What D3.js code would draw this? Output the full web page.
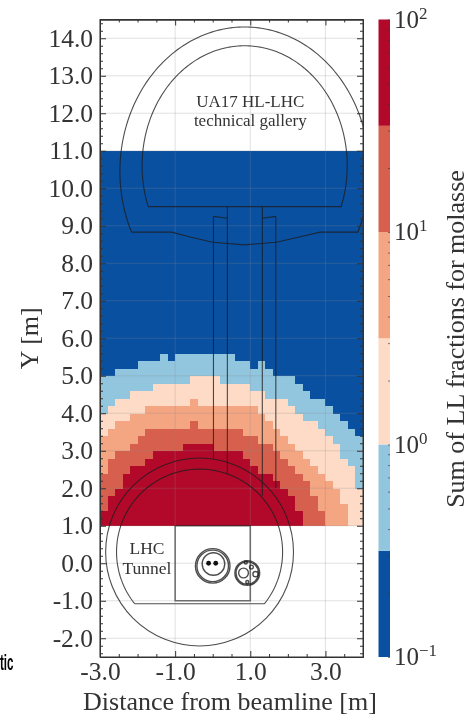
<!DOCTYPE html>
<html lang="en">

<head>
    <meta charset="UTF-8">
    <title>Sum of LL fractions for molasse</title>
    <style>
        body {
            margin: 0;
            padding: 0;
            background: #fff;
        }

        svg {
            display: block;
            filter: blur(0.45px);
        }

        text {
            font-family: "Liberation Serif", serif;
            fill: #333;
        }

        .outline {
            fill: none;
            stroke: #1c1c1c;
            stroke-opacity: 0.78;
            stroke-width: 1.1;
        }

        .tick text {
            font-size: 25.5px;
        }

        .tick line,
        .domain {
            stroke: #333;
        }
    </style>
</head>

<body>

    <svg width="471" height="720"></svg>

    <script src="https://d3js.org/d3.v7.min.js"></script>
    <script>
        // Cell size of the map, metres
        const cellSize = 0.2;
        const xDomain = [-3, 4];
        const yDomain = [-2.5, 14.5];
        const mapBottom = 1;
        const mapTop = 11;

        // Top of each colour band per column, counted in cells above Y = 1
        const topBand55 = [2, 4, 5, 7, 8, 8, 9, 10, 10, 10, 10, 11, 11, 11, 11, 10, 10, 10, 10, 9, 8, 7, 7, 6, 5, 4, 2, 0, 0, 0, 0, 0, 0, 0, 0];
        const topBand17 = [7, 9, 10, 10, 11, 12, 13, 13, 13, 13, 13, 13, 14, 13, 13, 13, 13, 13, 13, 12, 12, 11, 11, 10, 9, 8, 7, 6, 4, 2, 0, 0, 0, 0, 0];
        const topBand55e1 = [12, 13, 14, 14, 15, 15, 16, 16, 16, 16, 16, 16, 17, 16, 16, 16, 16, 16, 16, 16, 16, 15, 14, 13, 12, 11, 10, 9, 8, 7, 6, 5, 3, 0, 0];
        const topBand17e1 = [15, 16, 17, 17, 18, 18, 18, 19, 19, 19, 19, 19, 20, 20, 20, 20, 19, 19, 19, 19, 18, 18, 17, 17, 17, 16, 15, 14, 14, 13, 12, 11, 9, 8, 5];
        const topBand55e2 = [20, 20, 21, 21, 21, 22, 22, 22, 23, 22, 23, 23, 23, 23, 23, 23, 23, 23, 22, 22, 21, 22, 21, 20, 20, 20, 19, 18, 17, 17, 16, 15, 14, 13, 12];
        const bandTops = [topBand55, topBand17, topBand55e1, topBand17e1, topBand55e2];
        const bandValues = [55, 17, 5.5, 1.7, 0.55, 0.17];

        // Colour bar
        const bandEdges = [0.1, 0.316, 1, 3.16, 10, 31.6, 100];
        const bandColors = ["#0a50a1", "#92c5de", "#fddbc7", "#f4a582", "#d6604d", "#b2092b"];
        const cbarTicks = [0.1, 1, 10, 100];
        const cbarExponents = ["\u22121", "0", "1", "2"];

        const xMajor = [-3, -1, 1, 3];
        const yMajor = [-2, -1, 0, 1, 2, 3, 4, 5, 6, 7, 8, 9, 10, 11, 12, 13, 14];

        // Tunnel geometry in metres
        const galleryOuter = { cx: 0.85, cy: 10.45, rx: 3.32, ry: 3.85 };
        const galleryInner = { cx: 0.85, cy: 10.6, rx: 2.73, ry: 3.2 };
        const galleryInnerFloor = 9.51;
        const galleryOuterFloor = 8.83;
        const galleryDip = [[-1.09, 8.83], [-0.6, 8.7], [0, 8.56], [0.85, 8.49], [1.7, 8.56], [2.3, 8.7], [2.86, 8.83]];
        const tunnelCenter = [-0.35, 0.3];
        const tunnelOuterR = 2.5;
        const tunnelInnerR = 2.21;
        const tunnelFloor = -1.08;
        const shafts = [
            [[0.02, 9.25], [0.39, 9.2]],
            [[1.68, 9.25], [1.32, 9.2]],
            [[0.02, 9.25], [0.02, 2.8]],
            [[0.39, 9.51], [0.39, 2.4]],
            [[1.32, 9.51], [1.32, 1.8]],
            [[1.68, 9.25], [1.68, 2.0]]
        ];
        const roomBox = [[-1, 1], [-1, -1], [1, -1], [1, 1], [-1, 1]];
        // Magnet and cryo line cross sections [x, y, r]
        const pipeCircles = [
            [0, -0.07, 0.46], [0, -0.07, 0.42], [0.02, -0.02, 0.3],
            [0.92, -0.26, 0.33], [0.92, -0.26, 0.3], [0.82, -0.26, 0.13],
            [1.14, -0.29, 0.07], [1.03, -0.1, 0.05], [0.88, 0.02, 0.04], [0.92, -0.5, 0.04]
        ];
        const beamDots = [[-0.11, 0], [0.08, 0]];

        const svg = d3.select("svg");

        const margin = { left: 100, right: 363, top: 19.5, bottom: 657 };
        const x = d3.scaleLinear().domain(xDomain).range([margin.left, margin.right]);
        const y = d3.scaleLinear().domain(yDomain).range([margin.bottom, margin.top]);
        const plotW = margin.right - margin.left;
        const plotH = margin.bottom - margin.top;

        const color = d3.scaleThreshold()
            .domain(bandEdges.slice(1, -1))
            .range(bandColors);

        svg.append("defs").append("clipPath").attr("id", "plotClip")
            .append("rect")
            .attr("x", margin.left).attr("y", margin.top)
            .attr("width", plotW).attr("height", plotH);

        // Build the cell list from the band tops
        const rows = Math.round((mapTop - mapBottom) / cellSize);
        const cells = [];
        topBand55.forEach((_, col) => {
            d3.range(rows).forEach(row => {
                let band = bandTops.findIndex(t => row < t[col]);
                if (band < 0) band = bandValues.length - 1;
                cells.push({ col, row, value: bandValues[band] });
            });
        });

        svg.append("g")
            .attr("shape-rendering", "crispEdges")
            .selectAll("rect")
            .data(cells)
            .enter()
            .append("rect")
            .attr("x", d => x(xDomain[0] + d.col * cellSize))
            .attr("y", d => y(mapBottom + (d.row + 1) * cellSize))
            .attr("width", x(cellSize) - x(0) + 0.5)
            .attr("height", y(0) - y(cellSize) + 0.5)
            .attr("fill", d => color(d.value));

        // Grid sits above the map
        const grid = svg.append("g")
            .attr("stroke", "#8a8a8a")
            .attr("stroke-opacity", 0.25)
            .attr("stroke-width", 1);
        grid.selectAll(".gx").data(xMajor).enter().append("line")
            .attr("x1", d => x(d)).attr("x2", d => x(d))
            .attr("y1", margin.top).attr("y2", margin.bottom);
        grid.selectAll(".gy").data(yMajor).enter().append("line")
            .attr("y1", d => y(d)).attr("y2", d => y(d))
            .attr("x1", margin.left).attr("x2", margin.right);

        // Outlines
        const overlay = svg.append("g").attr("clip-path", "url(#plotClip)");
        const line = d3.line().x(d => x(d[0])).y(d => y(d[1]));

        // points along an ellipse between two heights, going over the top
        function archPoints(e, floorY) {
            const start = Math.asin((floorY - e.cy) / e.ry);
            return d3.range(0, 181).map(i => {
                const a = (Math.PI + 2 * -start) * i / 180 + start;
                return [e.cx - e.rx * Math.cos(a), e.cy + e.ry * Math.sin(a)];
            });
        }

        const outerArch = archPoints(galleryOuter, galleryOuterFloor);
        overlay.append("path").attr("class", "outline")
            .attr("d", line(outerArch.concat([[outerArch[180][0], galleryOuterFloor]], galleryDip.slice().reverse(), [outerArch[0]])));

        const innerArch = archPoints(galleryInner, galleryInnerFloor);
        overlay.append("path").attr("class", "outline")
            .attr("d", line(innerArch.concat([innerArch[0]])));

        overlay.selectAll(".shaft").data(shafts).enter().append("path")
            .attr("class", "outline")
            .attr("d", d => line(d));

        const rScale = x(1) - x(0);
        overlay.append("circle").attr("class", "outline")
            .attr("cx", x(tunnelCenter[0])).attr("cy", y(tunnelCenter[1]))
            .attr("r", tunnelOuterR * rScale);

        const innerEllipse = { cx: tunnelCenter[0], cy: tunnelCenter[1], rx: tunnelInnerR, ry: tunnelInnerR };
        const tunnelArch = archPoints(innerEllipse, tunnelFloor);
        overlay.append("path").attr("class", "outline")
            .attr("d", line(tunnelArch.concat([tunnelArch[0]])));

        overlay.append("path").attr("class", "outline")
            .style("stroke-width", 1.6)
            .style("stroke-opacity", 0.6)
            .attr("d", line(roomBox));

        overlay.selectAll(".pipe").data(pipeCircles).enter().append("circle")
            .attr("class", "outline")
            .style("stroke-width", 1.4)
            .attr("cx", d => x(d[0])).attr("cy", d => y(d[1]))
            .attr("r", d => d[2] * rScale);

        overlay.selectAll(".dot").data(beamDots).enter().append("circle")
            .attr("cx", d => x(d[0])).attr("cy", d => y(d[1]))
            .attr("r", 2.4)
            .attr("fill", "#111");

        // Labels inside the plot
        const labels = svg.append("g").attr("text-anchor", "middle");
        labels.append("text").attr("x", x(1)).attr("y", y(12.18)).attr("font-size", 17).text("UA17 HL-LHC");
        labels.append("text").attr("x", x(1)).attr("y", y(11.65)).attr("font-size", 17).text("technical gallery");
        labels.append("text").attr("x", x(-1.75)).attr("y", y(0.25)).attr("font-size", 17.5).text("LHC");
        labels.append("text").attr("x", x(-1.75)).attr("y", y(-0.29)).attr("font-size", 17.5).text("Tunnel");

        // Axes, ticks point inward on all four sides
        const fmt = d3.format(".1f");
        const hyphen = d => fmt(d).replace("\u2212", "-");
        const xMinor = d3.range(-3, 4.01, 0.5).filter(d => !xMajor.includes(d));
        const yMinor = d3.range(-2.4, 14.41, 0.2).filter(d => !yMajor.some(m => Math.abs(m - d) < 1e-6));

        svg.append("g").attr("transform", `translate(0,${margin.bottom})`)
            .call(d3.axisBottom(x).tickValues(xMajor).tickSizeInner(-6).tickSizeOuter(0).tickPadding(5).tickFormat(hyphen));
        svg.append("g").attr("transform", `translate(${margin.left},0)`)
            .call(d3.axisLeft(y).tickValues(yMajor).tickSizeInner(-6).tickSizeOuter(0).tickPadding(7).tickFormat(hyphen));
        svg.append("g").attr("transform", `translate(0,${margin.top})`)
            .call(d3.axisTop(x).tickValues(xMajor).tickSizeInner(-6).tickSizeOuter(0).tickFormat(""));
        svg.append("g").attr("transform", `translate(${margin.right},0)`)
            .call(d3.axisRight(y).tickValues(yMajor).tickSizeInner(-6).tickSizeOuter(0).tickFormat(""));

        svg.append("g").attr("transform", `translate(0,${margin.bottom})`)
            .call(d3.axisBottom(x).tickValues(xMinor).tickSizeInner(-3).tickSizeOuter(0).tickFormat(""));
        svg.append("g").attr("transform", `translate(${margin.left},0)`)
            .call(d3.axisLeft(y).tickValues(yMinor).tickSizeInner(-3).tickSizeOuter(0).tickFormat(""));
        svg.append("g").attr("transform", `translate(0,${margin.top})`)
            .call(d3.axisTop(x).tickValues(xMinor).tickSizeInner(-3).tickSizeOuter(0).tickFormat(""));
        svg.append("g").attr("transform", `translate(${margin.right},0)`)
            .call(d3.axisRight(y).tickValues(yMinor).tickSizeInner(-3).tickSizeOuter(0).tickFormat(""));

        svg.append("rect")
            .attr("x", margin.left).attr("y", margin.top)
            .attr("width", plotW).attr("height", plotH)
            .attr("fill", "none").attr("stroke", "#333").attr("stroke-width", 1);

        svg.append("text")
            .attr("x", 230).attr("y", 710)
            .attr("text-anchor", "middle").attr("font-size", 26)
            .text("Distance from beamline [m]");

        svg.append("text")
            .attr("transform", `translate(38,${(margin.top + margin.bottom) / 2}) rotate(-90)`)
            .attr("text-anchor", "middle").attr("font-size", 26)
            .text("Y [m]");

        // Colour bar
        const cbarLeft = 378.5;
        const cbarRight = 390;
        const c = d3.scaleLog().domain([0.1, 100]).range([margin.bottom, margin.top]);

        svg.append("g").selectAll("rect")
            .data(bandColors)
            .enter()
            .append("rect")
            .attr("x", cbarLeft)
            .attr("width", cbarRight - cbarLeft)
            .attr("y", (d, i) => c(bandEdges[i + 1]))
            .attr("height", (d, i) => c(bandEdges[i]) - c(bandEdges[i + 1]))
            .attr("fill", d => d);

        svg.append("g").attr("transform", `translate(${cbarRight},0)`)
            .call(d3.axisRight(c).tickValues(c.ticks()).tickSizeInner(-2).tickSizeOuter(0).tickFormat(""))
            .call(g => g.select(".domain").remove())
            .selectAll("line").attr("stroke", "#333").attr("stroke-opacity", 0.6);

        const cbarLabels = svg.append("g").selectAll("text")
            .data(cbarTicks)
            .enter()
            .append("text")
            .attr("x", 394)
            .attr("y", d => c(d) + 8)
            .attr("font-size", 25);
        cbarLabels.append("tspan").text("10");
        cbarLabels.append("tspan")
            .attr("dy", -9)
            .attr("font-size", 17)
            .text((d, i) => cbarExponents[i]);

        svg.append("text")
            .attr("transform", `translate(464,339) rotate(-90)`)
            .attr("text-anchor", "middle").attr("font-size", 26)
            .text("Sum of LL fractions for molasse");

        // Stray piece of the source page's caption, cut at the image edge
        svg.append("text")
            .attr("x", 0).attr("y", 670)
            .attr("textLength", 13.5)
            .attr("lengthAdjust", "spacingAndGlyphs")
            .style("font-family", "'Liberation Sans', sans-serif")
            .style("fill", "#000")
            .attr("font-weight", "bold").attr("font-size", 22)
            .text("tic");
    </script>

</body>

</html>
